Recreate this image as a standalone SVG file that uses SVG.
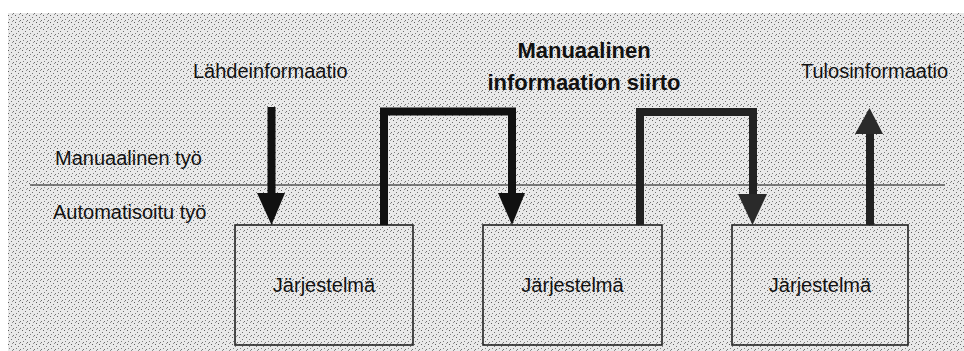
<svg xmlns="http://www.w3.org/2000/svg" width="964" height="351" viewBox="0 0 964 351">
  <defs>
    <!-- light stipple texture for the paper -->
    <pattern id="stipple" width="7" height="7" patternUnits="userSpaceOnUse">
      <rect width="7" height="7" fill="#e9e9e9"/>
      <rect x="1" y="1" width="1" height="1" fill="#5e5e5e"/>
      <rect x="4" y="3" width="1" height="1" fill="#707070"/>
      <rect x="2" y="5" width="1" height="1" fill="#808080"/>
      <rect x="6" y="6" width="1" height="1" fill="#707070"/>
      <rect x="5" y="0" width="1" height="1" fill="#909090"/>
    </pattern>
  </defs>
  <style>
    .lbl { font-family: "Liberation Sans", Arial, sans-serif; font-size: 20px; fill: #111; }
    .bold { font-family: "Liberation Sans", Arial, sans-serif; font-size: 22px; font-weight: bold; fill: #111; }
    .box { fill: none; stroke: #222; stroke-width: 1.6; }
    .flow { fill: none; stroke: #111; stroke-width: 8; stroke-linejoin: miter; }
    .flow2 { fill: none; stroke: #222; stroke-width: 8; stroke-linejoin: miter; }
    .head { fill: #111; }
    .head2 { fill: #2a2a2a; }
  </style>

  <!-- paper -->
  <rect x="0" y="0" width="964" height="351" fill="#ffffff"/>
  <rect x="8" y="13" width="956" height="338" fill="url(#stipple)"/>

  <!-- divider between manual and automated work -->
  <line x1="30" y1="185" x2="945" y2="185" stroke="#555" stroke-width="1.5"/>

  <!-- section labels -->
  <g id="labels">
    <text class="lbl" x="55" y="165">Manuaalinen työ</text>
    <text class="lbl" x="53" y="219">Automatisoitu työ</text>
    <text class="lbl" x="193" y="78">Lähdeinformaatio</text>
    <text class="lbl" x="801" y="78">Tulosinformaatio</text>
    <text class="bold" x="584" y="58" text-anchor="middle">Manuaalinen</text>
    <text class="bold" x="584" y="90" text-anchor="middle">informaation siirto</text>
  </g>

  <!-- systems -->
  <g id="system1">
    <rect class="box" x="235" y="225" width="178" height="120"/>
    <text class="lbl" x="324" y="292" text-anchor="middle">Järjestelmä</text>
  </g>
  <g id="system2">
    <rect class="box" x="483" y="225" width="179" height="120"/>
    <text class="lbl" x="572.5" y="292" text-anchor="middle">Järjestelmä</text>
  </g>
  <g id="system3">
    <rect class="box" x="732" y="225" width="176" height="120"/>
    <text class="lbl" x="820" y="292" text-anchor="middle">Järjestelmä</text>
  </g>

  <!-- information flows -->
  <g id="connectors">
    <!-- source information into system 1 -->
    <path class="flow" d="M271.5,107 V194"/>
    <path class="head" d="M257,193 L285,193 L271.5,225 Z"/>

    <!-- manual transfer system 1 -> system 2 -->
    <path class="flow" d="M384,225 V111.5 H512 V194"/>
    <path class="head" d="M498,193 L525,193 L512,225 Z"/>

    <!-- manual transfer system 2 -> system 3 -->
    <path class="flow2" d="M640,225 V112 H753 V195"/>
    <path class="head2" d="M738,194 L767,194 L752.5,225 Z"/>

    <!-- result information out of system 3 -->
    <path class="flow2" d="M870,225 V132"/>
    <path class="head2" d="M855,134 L883,134 L869.5,108 Z"/>
  </g>
</svg>
